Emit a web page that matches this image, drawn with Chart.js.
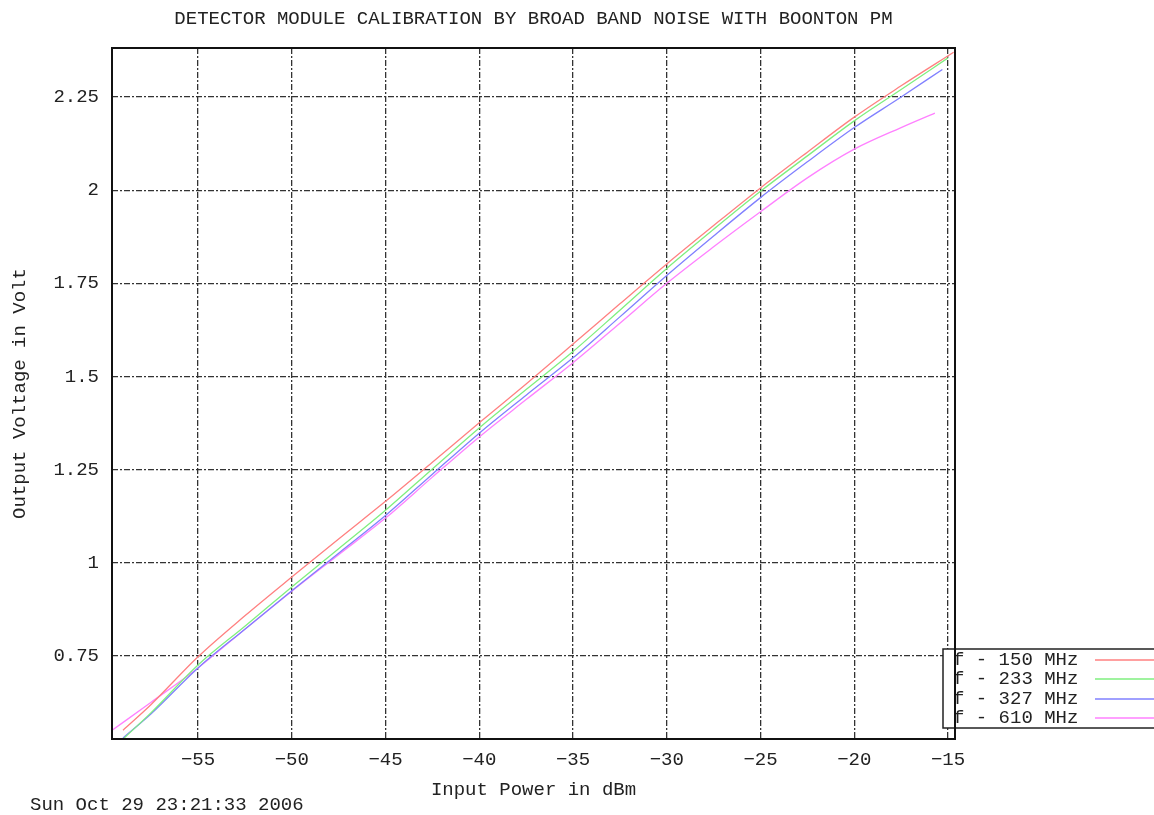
<!DOCTYPE html>
<html>
<head>
<meta charset="utf-8">
<title>Detector module calibration</title>
<script src="https://cdn.jsdelivr.net/npm/chart.js@4.4.1/dist/chart.umd.min.js"></script>
<style>
  html, body { margin:0; padding:0; background:#fff; }
  #wrap { width:1154px; height:815px; position:relative; }
</style>
</head>
<body>
<div id="wrap"><canvas id="calChart" width="1154" height="815"></canvas></div>
<script>
// === DATA ===
const power150 = [-59.0, -57.5, -55, -52.5, -50, -47.5, -45, -42.5, -40, -37.5, -35, -32.5, -30, -27.5, -25, -22.5, -20, -17.5, -14.7];
const volt150  = [0.551, 0.620, 0.748, 0.858, 0.962, 1.064, 1.165, 1.270, 1.376, 1.480, 1.587, 1.695, 1.802, 1.905, 2.006, 2.102, 2.196, 2.280, 2.370];

const power233 = [-59.0, -57.5, -55, -52.5, -50, -47.5, -45, -42.5, -40, -37.5, -35, -32.5, -30, -27.5, -25, -22.5, -20, -17.5, -15.0];
const volt233  = [0.527, 0.598, 0.726, 0.830, 0.935, 1.038, 1.141, 1.252, 1.362, 1.465, 1.567, 1.678, 1.790, 1.895, 1.997, 2.092, 2.186, 2.270, 2.355];

const power327 = [-59.0, -57.5, -55, -52.5, -50, -47.5, -45, -42.5, -40, -37.5, -35, -32.5, -30, -27.5, -25, -22.5, -20, -17.5, -15.3];
const volt327  = [0.530, 0.595, 0.718, 0.822, 0.925, 1.026, 1.127, 1.238, 1.348, 1.450, 1.550, 1.660, 1.771, 1.877, 1.980, 2.076, 2.168, 2.250, 2.324];

const power610 = [-59.6, -57.5, -55, -52.5, -50, -47.5, -45, -42.5, -40, -37.5, -35, -32.5, -30, -27.5, -25, -22.5, -20, -17.5, -15.7];
const volt610  = [0.550, 0.626, 0.718, 0.822, 0.924, 1.022, 1.120, 1.230, 1.338, 1.438, 1.537, 1.643, 1.750, 1.848, 1.942, 2.033, 2.110, 2.168, 2.207];

const seriesLabels = ['f - 150 MHz', 'f - 233 MHz', 'f - 327 MHz', 'f - 610 MHz'];
const seriesColors = ['#ff8080', '#7fef7f', '#8080ff', '#ff80ff'];

const xTicks = [-55, -50, -45, -40, -35, -30, -25, -20, -15];
const yTicks = [0.75, 1, 1.25, 1.5, 1.75, 2, 2.25];

const titleText = 'DETECTOR MODULE CALIBRATION BY BROAD BAND NOISE WITH BOONTON PM';
const dateText = 'Sun Oct 29 23:21:33 2006';

// === HELPERS ===
const MONO = '"Liberation Mono", "DejaVu Sans Mono", monospace';
const TXT = '#222';

function toPoints(xs, ys){
    return xs.map((x,i)=>({x:x, y:ys[i]}));
}

const datasets = [
    toPoints(power150, volt150),
    toPoints(power233, volt233),
    toPoints(power327, volt327),
    toPoints(power610, volt610)
].map((pts,i)=>({
    label: seriesLabels[i],
    data: pts,
    borderColor: seriesColors[i],
    backgroundColor: seriesColors[i],
    borderWidth: 1.3,
    pointRadius: 0,
    cubicInterpolationMode: 'monotone',
    fill: false
}));

// === PLUGINS ===
// frame, gnuplot-style key box, title and timestamp
const gnuplotDecor = {
    id: 'gnuplotDecor',
    afterDraw(chart){
        const ctx = chart.ctx;
        const a = chart.chartArea;
        ctx.save();

        // title
        ctx.font = '19px ' + MONO;
        ctx.fillStyle = TXT;
        ctx.textAlign = 'center';
        ctx.textBaseline = 'middle';
        ctx.fillText(titleText, (a.left+a.right)/2, 19);

        // timestamp
        ctx.textAlign = 'left';
        ctx.fillText(dateText, 30, 805);

        // key box
        ctx.fillStyle = '#fff';
        ctx.fillRect(943, 649, 220, 79);
        ctx.strokeStyle = '#222';
        ctx.lineWidth = 1.5;
        ctx.strokeRect(943, 649, 220, 79);
        const rows = [660, 679, 699, 718];
        seriesLabels.forEach((lab,i)=>{
            ctx.fillStyle = TXT;
            ctx.textAlign = 'left';
            ctx.fillText(lab, 953, rows[i]);
            ctx.beginPath();
            ctx.moveTo(1095, rows[i]);
            ctx.lineTo(1154, rows[i]);
            ctx.strokeStyle = seriesColors[i];
            ctx.lineWidth = 1.3;
            ctx.stroke();
        });

        // plot border
        ctx.strokeStyle = '#111';
        ctx.lineWidth = 2;
        ctx.strokeRect(a.left, a.top, a.right-a.left, a.bottom-a.top);
        ctx.restore();
    }
};

// === CHART ===
const gridDash = [6,2,2,2];
const ctxCal = document.getElementById('calChart').getContext('2d');
new Chart(ctxCal, {
    type: 'line',
    data: { datasets },
    options: {
        responsive: false,
        animation: false,
        layout: { padding: { top: 48, right: 199, left: 0, bottom: 0 } },
        plugins: { legend: { display: false }, tooltip: { enabled: false } },
        scales: {
            x: {
                type: 'linear',
                min: -59.587,
                max: -14.627,
                afterBuildTicks: s => { s.ticks = xTicks.map(v=>({value:v})); },
                afterFit: s => { s.height = 76; },
                border: { display: false, dash: gridDash },
                grid: { color: '#333', lineWidth: 1.3, drawTicks: false },
                ticks: { font: { family: MONO, size: 19 }, color: TXT, padding: 10, maxRotation: 0,
                         callback: v => String(v).replace('-', '\u2212') },
                title: { display: true, text: 'Input Power in dBm', color: TXT,
                         font: { family: MONO, size: 19 }, padding: { top: 0, bottom: 14 } }
            },
            y: {
                type: 'linear',
                min: 0.5273,
                max: 2.3815,
                afterBuildTicks: s => { s.ticks = yTicks.map(v=>({value:v})); },
                afterFit: s => { s.width = 112; },
                border: { display: false, dash: gridDash },
                grid: { color: '#333', lineWidth: 1.3, drawTicks: false },
                ticks: { font: { family: MONO, size: 19 }, color: TXT, padding: 13,
                         callback: v => String(v) },
                title: { display: true, text: 'Output Voltage in Volt', color: TXT,
                         font: { family: MONO, size: 19 }, padding: { top: 9, bottom: 0 } }
            }
        }
    },
    plugins: [gnuplotDecor]
});
</script>
</body>
</html>
